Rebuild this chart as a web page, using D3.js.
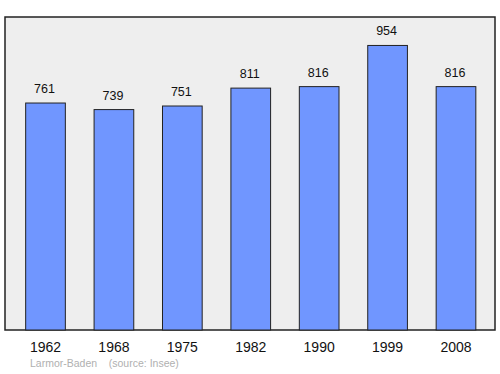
<!DOCTYPE html>
<html><head><meta charset="utf-8">
<script src="https://cdn.jsdelivr.net/npm/d3@7"></script>
<style>body{margin:0;background:#fff}svg{display:block}</style>
</head><body>
<svg id="c" width="500" height="374"></svg>
<script>
const years = ["1962","1968","1975","1982","1990","1999","2008"];
const population = [761,739,751,811,816,954,816];
const sourceText = "Larmor-Baden    (source: Insee)";

const svg = d3.select("#c");
const plot = {left:5, top:17, right:495, bottom:330};
svg.append("rect").attr("x",plot.left).attr("y",plot.top)
  .attr("width",plot.right-plot.left).attr("height",plot.bottom-plot.top)
  .attr("fill","#eeeeee").attr("stroke","#222").attr("stroke-width",1.5);

const x = d3.scaleBand().domain(years).range([11.3,490.2]).paddingInner(0.42).paddingOuter(0.21);
const y = d3.scaleLinear().domain([0, d3.max(population)*1.1]).range([plot.bottom, plot.top]);

const g = svg.append("g");
g.selectAll("rect.bar").data(years).join("rect").attr("class","bar")
  .attr("x",d=>x(d)).attr("width",x.bandwidth())
  .attr("y",(d,i)=>y(population[i])).attr("height",(d,i)=>plot.bottom-y(population[i]))
  .attr("fill","#7096ff").attr("stroke","#222").attr("stroke-width",1);

g.selectAll("text.val").data(years).join("text").attr("class","val")
  .attr("x",d=>x(d)+x.bandwidth()/2-1).attr("y",(d,i)=>y(population[i])-10)
  .attr("text-anchor","middle").attr("font-family","Liberation Sans, Arial, sans-serif")
  .attr("font-size",12.5).attr("fill","#111").text((d,i)=>population[i]);

const axis = d3.axisBottom(x).tickSize(0).tickPadding(0);
const ax = svg.append("g").attr("transform",`translate(0,${plot.bottom})`).call(axis);
ax.select(".domain").remove();
ax.selectAll("text").attr("font-family","Liberation Sans, Arial, sans-serif")
  .attr("font-size",14).attr("fill","#111").attr("dy",null).attr("y",22);

svg.append("text").attr("x",30).attr("y",367).attr("xml:space","preserve")
  .style("white-space","pre")
  .attr("font-family","Liberation Sans, Arial, sans-serif").attr("font-size",10.5)
  .attr("fill","#b0b0b0").text(sourceText);
</script>
</body></html>
